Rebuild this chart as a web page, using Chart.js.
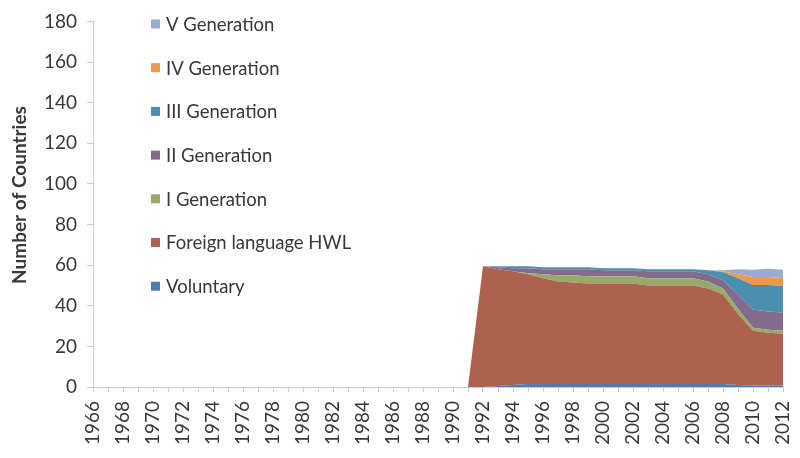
<!DOCTYPE html>
<html>
<head>
<meta charset="utf-8">
<script src="https://cdn.jsdelivr.net/npm/chart.js@4/dist/chart.umd.min.js"></script>
<style>
    html, body { margin: 0; padding: 0; background: #fff; }
    #wrap { width: 800px; height: 458px; position: relative; }
</style>
</head>
<body>
<div id="wrap"><canvas id="chart"></canvas></div>
<script>
const years = [
    '1966', '1967', '1968', '1969', '1970', '1971', '1972', '1973', '1974', '1975',
    '1976', '1977', '1978', '1979', '1980', '1981', '1982', '1983', '1984', '1985',
    '1986', '1987', '1988', '1989', '1990', '1991', '1992', '1993', '1994', '1995',
    '1996', '1997', '1998', '1999', '2000', '2001', '2002', '2003', '2004', '2005',
    '2006', '2007', '2008', '2009', '2010', '2011', '2012',
];

const zeros = [0, 0, 0, 0, 0, 0, 0, 0, 0, 0, 0, 0, 0, 0, 0, 0, 0, 0, 0, 0, 0, 0, 0, 0, 0, 0];

const voluntary = zeros.concat([0, 0.5, 1, 1.5, 1.5, 1.5, 1.5, 1.5, 1.5, 1.5, 1.5, 1.5, 1.5, 1.5, 1.5, 1.5, 1.5, 1, 0.7, 0.7, 0.7]);
const foreignHWL = zeros.concat([59.5, 57.5, 56, 54, 52, 50.5, 50, 49.5, 49.5, 49.5, 49.5, 48.5, 48.5, 48.5, 48.5, 47, 44, 35, 27, 26, 25.5]);
const gen1 = zeros.concat([0, 0, 0, 0.5, 2, 3, 3.5, 3.5, 3.5, 3.5, 3.5, 3.5, 3.5, 3.5, 3.5, 3.5, 3, 2.5, 1.5, 1.5, 1.5]);
const gen2 = zeros.concat([0, 1, 1.5, 2.5, 2.5, 3, 3, 3.5, 3, 3, 3, 3.5, 3.5, 3.5, 3.5, 3.5, 4, 7, 9, 9, 9]);
const gen3 = zeros.concat([0, 0.5, 1, 1, 1, 1, 1, 1, 1, 1, 1, 1, 1, 1, 1, 2, 4, 8, 12, 13, 13]);
const gen4 = zeros.concat([0, 0, 0, 0, 0, 0, 0, 0, 0, 0, 0, 0, 0, 0, 0, 0, 0.5, 2, 4, 4, 4]);
const gen5 = zeros.concat([0, 0, 0, 0, 0, 0, 0, 0, 0, 0, 0, 0, 0, 0, 0, 0, 0.5, 2.5, 3.5, 4, 4]);

const seriesLabels = ['Voluntary', 'Foreign language HWL', 'I Generation', 'II Generation', 'III Generation', 'IV Generation', 'V Generation'];
const seriesData = [voluntary, foreignHWL, gen1, gen2, gen3, gen4, gen5];
const seriesColors = ['#4f7bb2', '#ad624f', '#97aa6a', '#836b8e', '#4a8fb0', '#ea9a48', '#9aaad0'];

const yTicks = [0, 20, 40, 60, 80, 100, 120, 140, 160, 180];
const yTitle = 'Number of Countries';

const textColor = '#383838';
const axisColor = '#c3cdd8';
const fontFamily = 'Lato, "Open Sans", sans-serif';

const datasets = seriesData.map((data, i) => ({
    label: seriesLabels[i],
    data,
    backgroundColor: seriesColors[i],
    borderColor: seriesColors[i],
    borderWidth: 0,
    pointRadius: 0,
    tension: 0,
    fill: i === 0 ? 'origin' : '-1',
}));

// Legend sits inside the plot, top item = last series (Excel order).
// The y title is drawn here too: in the original it sits a bit above the axis centre.
const insideLegend = {
    id: 'insideLegend',
    afterDraw(chart) {
        const ctx = chart.ctx;
        ctx.save();
        ctx.font = `18.5px ${fontFamily}`;
        ctx.textBaseline = 'middle';
        ctx.textAlign = 'left';
        chart.data.datasets.slice().reverse().forEach((ds, k) => {
            const y = 24 + k * 43.7;
            ctx.fillStyle = ds.backgroundColor;
            ctx.fillRect(151, y - 4.5, 9, 9);
            ctx.fillStyle = textColor;
            ctx.fillText(ds.label, 166, y + 1);
        });

        ctx.translate(20, 195);
        ctx.rotate(-Math.PI / 2);
        ctx.textAlign = 'center';
        ctx.font = `bold 19px ${fontFamily}`;
        ctx.fillStyle = textColor;
        ctx.fillText(yTitle, 0, 0);
        ctx.restore();
    },
};

new Chart(document.getElementById('chart'), {
    type: 'line',
    data: { labels: years, datasets },
    plugins: [insideLegend],
    options: {
        responsive: true,
        maintainAspectRatio: false,
        animation: false,
        layout: { padding: { left: 0, right: 17, top: 20, bottom: 0 } },
        plugins: { legend: { display: false }, tooltip: { enabled: false } },
        scales: {
            x: {
                offset: false,
                grid: { display: true, drawOnChartArea: false, drawTicks: true, tickLength: 5, color: axisColor },
                border: { color: axisColor, width: 1 },
                ticks: {
                    autoSkip: false,
                    minRotation: 90,
                    maxRotation: 90,
                    padding: 9,
                    color: textColor,
                    font: { family: fontFamily, size: 19 },
                    callback: (v, i) => (i % 2 === 0 ? years[i] : ''),
                },
                afterFit: (s) => { s.height = 71; s.paddingLeft = 0; s.paddingRight = 0; },
            },
            y: {
                stacked: true,
                min: 0,
                max: 180,
                afterBuildTicks: (s) => { s.ticks = yTicks.map(v => ({ value: v })); },
                grid: { display: true, drawOnChartArea: false, drawTicks: true, tickLength: 6, color: axisColor },
                border: { color: axisColor, width: 1 },
                ticks: { padding: 10, color: textColor, font: { family: fontFamily, size: 19 } },
                title: { display: false },
                afterFit: (s) => { s.width = 93; },
            },
        },
    },
});
</script>
</body>
</html>
